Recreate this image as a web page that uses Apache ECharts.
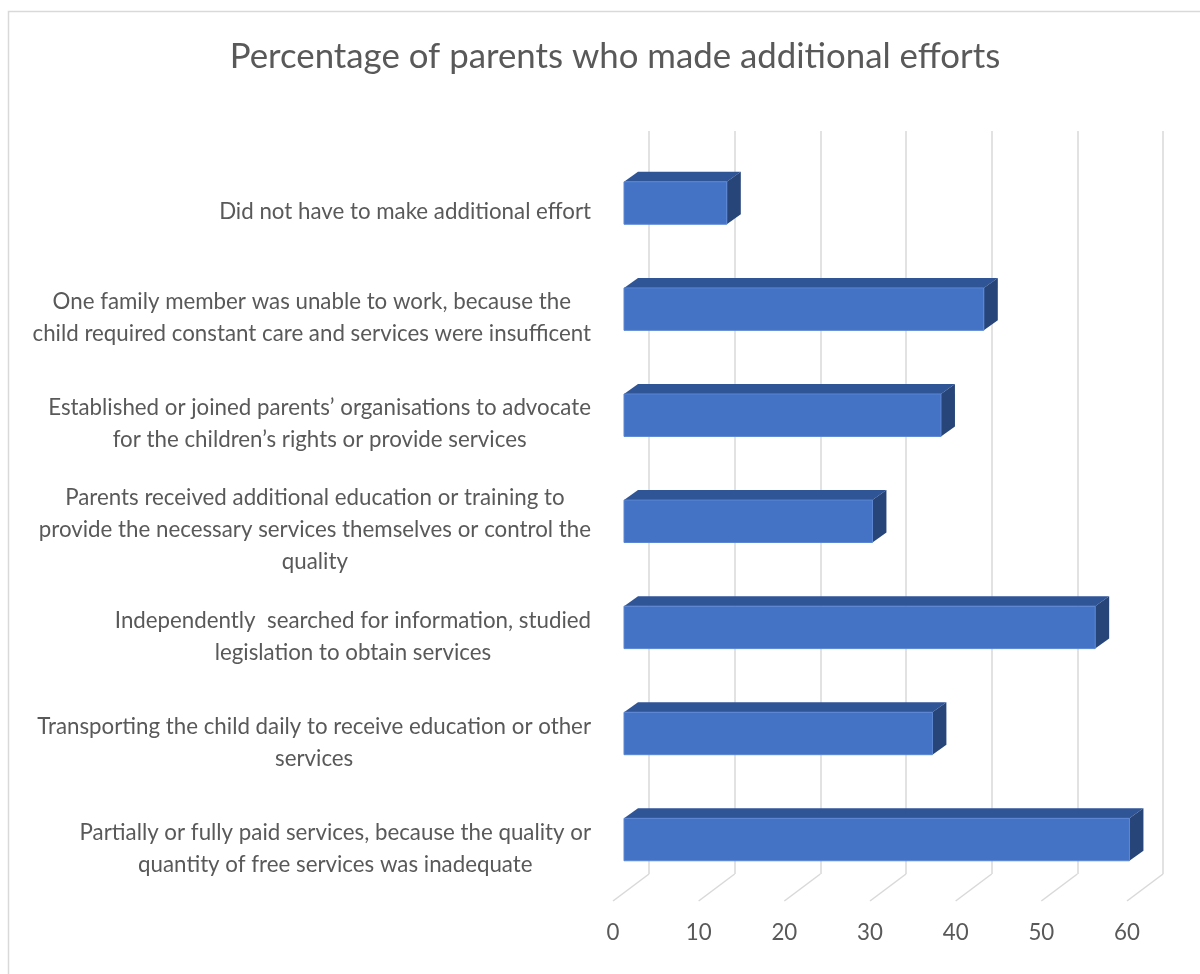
<!DOCTYPE html>
<html>
<head>
<meta charset="utf-8">
<script src="https://cdn.jsdelivr.net/npm/echarts@6/dist/echarts.min.js"></script>
<style>html,body{margin:0;padding:0;background:#fff}#c{width:1200px;height:974px}</style>
</head>
<body>
<div id="c"></div>
<script>
const titleText = 'Percentage of parents who made additional efforts';
const categories = [
  ['Did not have to make additional effort'],
  ['One family member was unable to work, because the', 'child required constant care and services were insufficent'],
  ['Established or joined parents\u2019 organisations to advocate', 'for the children\u2019s rights or provide services'],
  ['Parents received additional education or training to', 'provide the necessary services themselves or control the', 'quality'],
  ['Independently  searched for information, studied', 'legislation to obtain services'],
  ['Transporting the child daily to receive education or other', 'services'],
  ['Partially or fully paid services, because the quality or', 'quantity of free services was inadequate']
];
const values = [12, 42, 37, 29, 55, 36, 59];
const xTicks = [0, 10, 20, 30, 40, 50, 60];

const catKeys = categories.map(function (c, i) { return 'c' + i; });
const FONT = 'Lato';
const TXT = '#595959';
const GRID = '#d9d9d9';
const LBL = 22.3;

const chart = echarts.init(document.getElementById('c'), null, {renderer: 'canvas'});

function renderBar(params, api) {
  const v = api.value(0), idx = api.value(1);
  const p0 = api.coord([0, idx]);
  const p1 = api.coord([v, idx]);
  const band = api.size([0, 1])[1];
  const h = band * 0.4;
  const x0 = p0[0], x1 = p1[0];
  const yT = p0[1] - h / 2, yB = p0[1] + h / 2;
  const dx = 14, dy = 10;
  return {
    type: 'group',
    children: [
      {type: 'polygon', shape: {points: [[x0, yT], [x0 + dx, yT - dy], [x1 + dx, yT - dy], [x1, yT]]}, style: {fill: '#2F5597'}},
      {type: 'polygon', shape: {points: [[x1, yT], [x1 + dx, yT - dy], [x1 + dx, yB - dy], [x1, yB]]}, style: {fill: '#274579'}},
      {type: 'rect', shape: {x: x0, y: yT, width: x1 - x0, height: h}, style: {fill: '#4472C4', stroke: '#5B86D3', lineWidth: 1}}
    ]
  };
}

function renderFloor(params, api) {
  const p = api.coord([api.value(0), 0]);
  return {
    type: 'line',
    shape: {x1: p[0], y1: p[1], x2: p[0] + 36, y2: p[1] - 27},
    style: {stroke: GRID, lineWidth: 1.5}
  };
}

const option = {
  animation: false,
  backgroundColor: '#ffffff',
  title: {
    text: titleText,
    left: 610, top: 34, textAlign: 'center',
    textStyle: {fontFamily: FONT, fontSize: 34.8, fontWeight: 'normal', color: TXT}
  },
  graphic: [{
    type: 'rect', shape: {x: 8.5, y: 11.5, width: 1300, height: 1000},
    style: {fill: 'none', stroke: GRID, lineWidth: 1.5}, silent: true, z: -10
  }],
  grid: [
    {left: 624, width: 514, top: 150, height: 742.6},   // bars plane
    {left: 649, width: 514, top: 131, height: 743},     // back wall
    {left: 613, width: 514, top: 158, bottom: 73},      // floor front / labels
    {left: 624, width: 514, top: 159, height: 742.6}    // category labels
  ],
  xAxis: [
    {gridIndex: 0, type: 'value', min: 0, max: 60, interval: 10, show: false},
    {gridIndex: 1, type: 'value', min: 0, max: 60, interval: 10,
      axisLine: {show: false}, axisTick: {show: false}, axisLabel: {show: false},
      splitLine: {show: true, lineStyle: {color: GRID, width: 1.5}}},
    {gridIndex: 2, type: 'value', min: 0, max: 60, interval: 10,
      axisLine: {show: false}, axisTick: {show: false}, splitLine: {show: false},
      axisLabel: {margin: 21, fontFamily: FONT, fontSize: LBL, color: TXT,
        formatter: function (v) { return xTicks.indexOf(v) >= 0 ? String(v) : ''; }}},
    {gridIndex: 3, type: 'value', min: 0, max: 60, show: false}
  ],
  yAxis: [
    {gridIndex: 0, type: 'category', data: catKeys, inverse: true, show: false},
    {gridIndex: 1, type: 'value', min: 0, max: 1, show: false},
    {gridIndex: 2, type: 'value', min: 0, max: 1, show: false},
    {gridIndex: 3, type: 'category', data: catKeys, inverse: true,
      axisLine: {show: false}, axisTick: {show: false}, splitLine: {show: false},
      axisLabel: {
        margin: 33, align: 'right', fontFamily: FONT, fontSize: LBL, color: TXT, lineHeight: 32,
        formatter: function (v, i) {
          return categories[i].map(function (l) { return '{c|' + l + '}'; }).join('\n');
        },
        rich: {c: {align: 'center', fontFamily: FONT, fontSize: LBL, color: TXT, lineHeight: 32}}
      }}
  ],
  series: [
    {
      type: 'custom', xAxisIndex: 2, yAxisIndex: 2,
      renderItem: renderFloor,
      data: xTicks.map(function (t) { return [t]; }),
      encode: {x: 0}, silent: true, z: 1
    },
    {
      type: 'custom', xAxisIndex: 0, yAxisIndex: 0,
      renderItem: renderBar,
      data: values.map(function (v, i) { return [v, i]; }),
      encode: {x: 0, y: 1}, z: 5
    }
  ]
};
chart.setOption(option);
</script>
</body>
</html>
